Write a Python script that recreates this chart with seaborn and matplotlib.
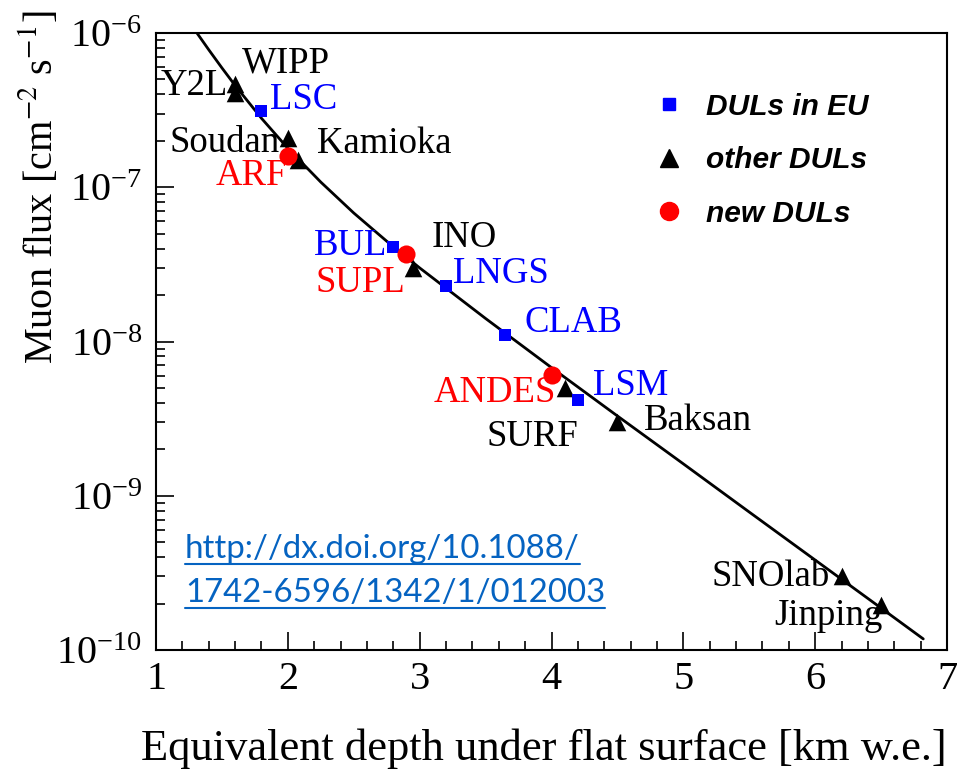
import numpy as np
import pandas as pd
import matplotlib
matplotlib.use("Agg")
import matplotlib.pyplot as plt
import seaborn as sns
from matplotlib.lines import Line2D
from matplotlib.ticker import MultipleLocator, LogLocator, NullFormatter

# ---------------- data ----------------
# fitted curve
curve_depth = [1.3, 1.4, 1.5, 1.6, 1.8, 2.0, 2.25, 2.5, 2.75, 3.0, 3.5, 4.0, 4.5, 5.0, 5.5, 6.0, 6.5, 6.82]
curve_flux = [1.03e-6, 7.79e-7, 5.94e-7, 4.57e-7, 2.80e-7, 1.79e-7, 1.08e-7, 6.81e-8, 4.47e-8,
              3.00e-8, 1.41e-8, 6.77e-9, 3.29e-9, 1.61e-9, 7.84e-10, 3.83e-10, 1.87e-10, 1.18e-10]

eu_names = ["LSC", "BUL", "LNGS", "CLAB", "LSM"]
eu_depth = [1.8, 2.8, 3.2, 3.65, 4.2]
eu_flux = [3.1e-7, 4.1e-8, 2.3e-8, 1.1e-8, 4.2e-9]

other_names = ["WIPP", "Y2L", "Soudan", "Kamioka", "INO", "SURF", "Baksan", "SNOlab", "Jinping"]
other_depth = [1.6, 1.6, 2.0, 2.08, 2.95, 4.1, 4.5, 6.2, 6.5]
other_flux = [4.7e-7, 4.1e-7, 2.1e-7, 1.5e-7, 3.0e-8, 5.0e-9, 3.0e-9, 3.0e-10, 1.95e-10]

new_names = ["ARF", "SUPL", "ANDES"]
new_depth = [2.0, 2.9, 4.0]
new_flux = [1.6e-7, 3.7e-8, 6.1e-9]

legend_labels = ["DULs in EU", "other DULs", "new DULs"]
link_lines = ["http://dx.doi.org/10.1088/", "1742-6596/1342/1/012003"]

# ---------------- style ----------------
sns.set_theme(style="white")
plt.rcParams["font.family"] = ["Liberation Serif", "DejaVu Serif"]
plt.rcParams["mathtext.fontset"] = "stix"
plt.rcParams["text.color"] = "black"
plt.rcParams["axes.labelcolor"] = "black"
plt.rcParams["xtick.color"] = "black"
plt.rcParams["ytick.color"] = "black"

BLUE = "#0000ff"
RED = "#ff0000"
BLACK = "#000000"

fig = plt.figure(figsize=(9.58, 7.71), dpi=100)
ax = fig.add_axes([156 / 958, 121 / 771, 791 / 958, 617 / 771])
ax.set_yscale("log")

curve_df = pd.DataFrame({"depth": curve_depth, "flux": curve_flux})
sns.lineplot(data=curve_df, x="depth", y="flux", color=BLACK, lw=2.0, ax=ax,
             estimator=None, sort=True, zorder=2)

other_df = pd.DataFrame({"depth": other_depth, "flux": other_flux})
eu_df = pd.DataFrame({"depth": eu_depth, "flux": eu_flux})
new_df = pd.DataFrame({"depth": new_depth, "flux": new_flux})
sns.scatterplot(data=other_df, x="depth", y="flux", marker="^", s=160, color=BLACK,
                linewidth=0, ax=ax, zorder=3)
sns.scatterplot(data=eu_df, x="depth", y="flux", marker="s", s=85, color=BLUE,
                linewidth=0, ax=ax, zorder=4)
sns.scatterplot(data=new_df, x="depth", y="flux", marker="o", s=170, color=RED,
                linewidth=0, ax=ax, zorder=5)

ax.set_xlim(1, 7)
ax.set_ylim(1e-10, 1e-6)

# ---- labels for each site ----
label_style = {
    "LSC": (9, 12, "left"), "BUL": (-6, 1, "right"), "LNGS": (7, 12, "left"),
    "CLAB": (19, 12, "left"), "LSM": (15, 14, "left"),
    "WIPP": (7, 20, "left"), "Y2L": (-7, 7, "right"), "Soudan": (-8, -5, "right"),
    "Kamioka": (19, 16, "left"), "INO": (19, 30, "left"), "SURF": (14, -49, "right"),
    "Baksan": (27, 1, "left"), "SNOlab": (-12, 0, "right"), "Jinping": (2, -10, "right"),
    "ARF": (-1, -20, "right"), "SUPL": (-1, -29, "right"), "ANDES": (5, -18, "right"),
}
for names, xs, ys, col in [(eu_names, eu_depth, eu_flux, BLUE),
                           (other_names, other_depth, other_flux, BLACK),
                           (new_names, new_depth, new_flux, RED)]:
    for n, x, y in zip(names, xs, ys):
        dx, dy, ha = label_style[n]
        ax.annotate(n, xy=(x, y), xytext=(dx, dy), textcoords="offset pixels",
                    ha=ha, va="center", fontsize=26.5, color=col, zorder=6)

# ---- axes styling ----
for sp in ax.spines.values():
    sp.set_linewidth(1.5)
    sp.set_color(BLACK)
ax.xaxis.set_major_locator(MultipleLocator(1))
ax.xaxis.set_minor_locator(MultipleLocator(0.2))
ax.yaxis.set_major_locator(LogLocator(base=10, numticks=10))
ax.yaxis.set_minor_locator(LogLocator(base=10, subs=np.arange(2, 10), numticks=20))
ax.yaxis.set_minor_formatter(NullFormatter())
ax.tick_params(axis="both", which="both", direction="in", top=False, right=False,
               bottom=True, left=True, color=BLACK, labelcolor=BLACK, width=1.2)
ax.tick_params(axis="both", which="major", length=13, labelsize=29, pad=10)
ax.tick_params(axis="both", which="minor", length=6.5)
ax.tick_params(axis="x", which="major", pad=8)
ax.grid(False)

ax.set_xlabel("Equivalent depth under flat surface [km w.e.]", fontsize=32, loc="right",
              color=BLACK)
ax.xaxis.set_label_coords(1.0, -0.127)
ax.set_ylabel(r"Muon flux [cm$^{-2}$ s$^{-1}$]", fontsize=29, loc="top", color=BLACK)
ax.yaxis.set_label_coords(-0.12, 1.037)

# ---- legend ----
handles = [
    Line2D([], [], ls="none", marker="s", ms=9, color=BLUE, mec=BLUE),
    Line2D([], [], ls="none", marker="^", ms=12.5, color=BLACK, mec=BLACK),
    Line2D([], [], ls="none", marker="o", ms=13, color=RED, mec=RED),
]
leg = ax.legend(handles, legend_labels, loc="upper left",
                bbox_to_anchor=(627 / 958, 705 / 771), bbox_transform=fig.transFigure,
                frameon=False, handlelength=1.0, handletextpad=0.75, labelspacing=0.85,
                labelcolor=BLACK,
                prop={"family": "Liberation Sans", "weight": "bold", "style": "italic", "size": 21.5})

# ---- DOI link with underline ----
LINK = "#0563c1"
txts = []
for i, line in enumerate(link_lines):
    base_y = [558, 602][i]
    t = fig.text(185 / 958, (771 - base_y) / 771, line, fontsize=23.8, color=LINK,
                 family=["Lato", "DejaVu Sans"], ha="left", va="baseline", zorder=7)
    txts.append((t, base_y))
fig.canvas.draw()
r = fig.canvas.get_renderer()
for t, base_y in txts:
    bb = t.get_window_extent(renderer=r)
    yl = (771 - base_y - 6) / 771
    fig.add_artist(Line2D([bb.x0 / 958, bb.x1 / 958], [yl, yl], transform=fig.transFigure,
                          color=LINK, lw=1.5))

fig.savefig("out.png", dpi=100)
